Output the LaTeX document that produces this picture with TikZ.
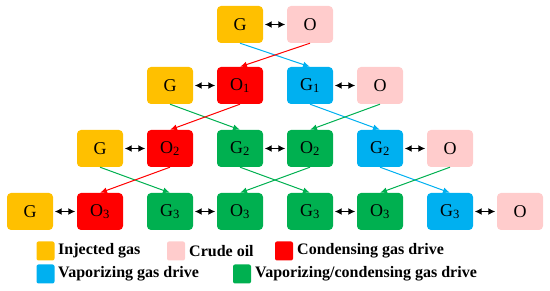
\documentclass[tikz,border=0pt]{standalone}
\usepackage{fontspec}
\setmainfont{Liberation Serif}
\usetikzlibrary{arrows.meta}
\definecolor{gascol}{HTML}{FFC000}
\definecolor{oilcol}{HTML}{FFCCCC}
\definecolor{condcol}{HTML}{FF0000}
\definecolor{vapcol}{HTML}{00B0F0}
\definecolor{vccol}{HTML}{00B050}
\begin{document}
\begin{tikzpicture}[x=1pt,y=-1pt,
  box/.style={rounded corners=4pt, minimum width=46pt, minimum height=37pt, inner sep=0pt, font=\fontsize{18}{18}\selectfont},
  gas/.style={box, fill=gascol},
  oil/.style={box, fill=oilcol},
  cond/.style={box, fill=condcol},
  vap/.style={box, fill=vapcol},
  vc/.style={box, fill=vccol},
  dbl/.style={{Latex[length=7pt,width=7pt]}-{Latex[length=7pt,width=7pt]}, line width=1.5pt, shorten <=1.5pt, shorten >=1.5pt},
  flow/.style={-{Latex[length=7pt,width=6pt]}, line width=1pt},
  key/.style={rounded corners=2pt, minimum width=18pt, minimum height=19pt, inner sep=0pt},
  keytext/.style={anchor=west, inner sep=0pt, font=\bfseries\fontsize{16}{16}\selectfont}]
\useasboundingbox (0,0) rectangle (550,291);

% row 0
\node[gas] (g0) at (240,24.5) {G};
\node[oil] (o0) at (310,24.5) {O};
% row 1
\node[gas] (g1a) at (170,85.5) {G};
\node[cond] (o1a) at (240,85.5) {O\textsubscript{1}};
\node[vap] (g1b) at (310,85.5) {G\textsubscript{1}};
\node[oil] (o1b) at (380,85.5) {O};
% row 2
\node[gas] (g2a) at (100,148.5) {G};
\node[cond] (o2a) at (170,148.5) {O\textsubscript{2}};
\node[vc] (g2b) at (240,148.5) {G\textsubscript{2}};
\node[vc] (o2b) at (310,148.5) {O\textsubscript{2}};
\node[vap] (g2c) at (380,148.5) {G\textsubscript{2}};
\node[oil] (o2c) at (450,148.5) {O};
% row 3
\node[gas] (g3a) at (30,211.5) {G};
\node[cond] (o3a) at (100,211.5) {O\textsubscript{3}};
\node[vc] (g3b) at (170,211.5) {G\textsubscript{3}};
\node[vc] (o3b) at (240,211.5) {O\textsubscript{3}};
\node[vc] (g3c) at (310,211.5) {G\textsubscript{3}};
\node[vc] (o3c) at (380,211.5) {O\textsubscript{3}};
\node[vap] (g3d) at (450,211.5) {G\textsubscript{3}};
\node[oil] (o3d) at (520,211.5) {O};

% contacts
\draw[dbl] (g0) -- (o0);
\draw[dbl] (g1a) -- (o1a);
\draw[dbl] (g1b) -- (o1b);
\draw[dbl] (g2a) -- (o2a);
\draw[dbl] (g2b) -- (o2b);
\draw[dbl] (g2c) -- (o2c);
\draw[dbl] (g3a) -- (o3a);
\draw[dbl] (g3b) -- (o3b);
\draw[dbl] (g3c) -- (o3c);
\draw[dbl] (g3d) -- (o3d);

% gas moves right, oil moves left
\draw[flow, vapcol] (g0.south) -- (g1b.north);
\draw[flow, condcol] (o0.south) -- (o1a.north);
\draw[flow, vccol] (g1a.south) -- (g2b.north);
\draw[flow, condcol] (o1a.south) -- (o2a.north);
\draw[flow, vapcol] (g1b.south) -- (g2c.north);
\draw[flow, vccol] (o1b.south) -- (o2b.north);
\draw[flow, vccol] (g2a.south) -- (g3b.north);
\draw[flow, condcol] (o2a.south) -- (o3a.north);
\draw[flow, vccol] (g2b.south) -- (g3c.north);
\draw[flow, vccol] (o2b.south) -- (o3b.north);
\draw[flow, vapcol] (g2c.south) -- (g3d.north);
\draw[flow, vccol] (o2c.south) -- (o3c.north);

% legend
\node[key, fill=gascol] (k1) at (45.5,251) {};
\node[keytext] (t1) at (58,251) {Injected gas};
\node[key, fill=oilcol] (k2) at (176,251) {};
\node[keytext] (t2) at (189,251) {Crude oil};
\node[key, fill=condcol] (k3) at (284,251) {};
\node[keytext] (t3) at (297,251) {Condensing gas drive};
\node[key, fill=vapcol] (k4) at (45.5,274) {};
\node[keytext] (t4) at (58,274) {Vaporizing gas drive};
\node[key, fill=vccol] (k5) at (242,274) {};
\node[keytext] (t5) at (255,274) {Vaporizing/condensing gas drive};
\end{tikzpicture}
\end{document}
